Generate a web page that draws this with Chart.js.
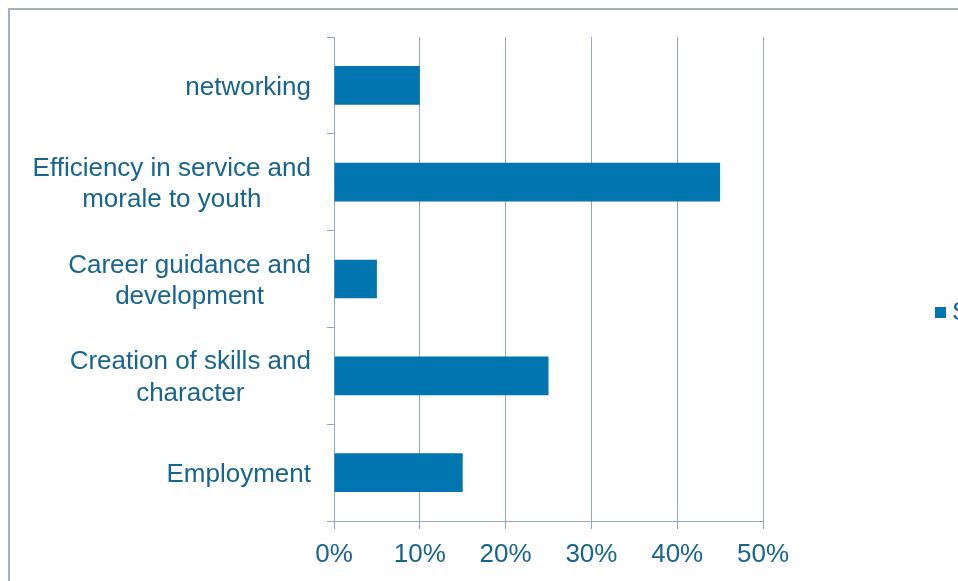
<!DOCTYPE html>
<html>
<head>
<meta charset="utf-8">
<script src="https://cdn.jsdelivr.net/npm/chart.js@4.4.1/dist/chart.umd.min.js"></script>
<style>
    html, body { margin: 0; padding: 0; background: #fff; overflow: hidden; }
    #frame {
        position: absolute; left: 8px; top: 8px; width: 1200px; height: 800px;
        border-left: 2px solid #a3b0c2; border-top: 2px solid #a3b0c2;
    }
    #wrap { position: absolute; left: 0; top: 0; width: 958px; height: 581px; }
</style>
</head>
<body>
<div id="frame"></div>
<div id="wrap"><canvas id="chart"></canvas></div>
<script>
// Categories (top to bottom) and values in percent
const categories = [
    'networking',
    ['Efficiency in service and', 'morale to youth'],
    ['Career guidance and', 'development'],
    ['Creation of skills and', 'character'],
    'Employment'
];
const values = [10, 45, 5, 25, 15];
const seriesName = 'Series1';
const xTicks = [0, 10, 20, 30, 40, 50];

const barColor = '#0075af';
const textColor = '#17648f';
const gridColor = '#95a5ba';
const font = { family: "'Liberation Sans', Arial, sans-serif", size: 26 };

// Wrapped category labels: keep the block right-aligned but center its lines
const centerWrapped = {
    id: 'centerWrapped',
    beforeDraw(chart) {
        const scale = chart.scales.y;
        const ctx = chart.ctx;
        scale.getLabelItems().forEach(item => {
            const [x, y] = item.options.translation;
            let nx = x;
            if (Array.isArray(item.label)) {
                ctx.save();
                ctx.font = item.font.string;
                const w = Math.max(...item.label.map(l => ctx.measureText(l).width));
                ctx.restore();
                item.options.textAlign = 'center';
                nx = x - w / 2;
            }
            item.options.translation = [nx, y + 2];
        });
    }
};

// Simple legend drawn at the right edge (it runs off the frame like the original)
const sideLegend = {
    id: 'sideLegend',
    afterDraw(chart) {
        const ctx = chart.ctx;
        const ds = chart.data.datasets[0];
        ctx.save();
        ctx.fillStyle = ds.backgroundColor;
        ctx.fillRect(935, 307, 11, 11);
        ctx.fillStyle = textColor;
        ctx.font = `${font.size}px ${font.family}`;
        ctx.textBaseline = 'middle';
        ctx.fillText(ds.label, 952, 313);
        ctx.restore();
    }
};

new Chart(document.getElementById('chart'), {
    type: 'bar',
    data: {
        labels: categories,
        datasets: [{
            label: seriesName,
            data: values,
            backgroundColor: barColor,
            borderWidth: 0,
            categoryPercentage: 1,
            barPercentage: 0.4
        }]
    },
    options: {
        indexAxis: 'y',
        responsive: true,
        maintainAspectRatio: false,
        animation: false,
        layout: { padding: { top: 37, right: 195, left: 0, bottom: 0 } },
        plugins: {
            legend: { display: false },
            tooltip: { enabled: false }
        },
        scales: {
            x: {
                min: 0,
                max: 50,
                afterBuildTicks: s => { s.ticks = xTicks.map(v => ({ value: v })); },
                afterFit: s => { s.height = 60; },
                ticks: {
                    color: textColor,
                    font: font,
                    padding: 10,
                    callback: v => v + '%'
                },
                grid: { color: gridColor, lineWidth: 1, tickLength: 8 },
                border: { color: gridColor, width: 1 }
            },
            y: {
                afterFit: s => { s.width = 334; },
                ticks: { color: textColor, font: font, padding: 16 },
                grid: { drawOnChartArea: false, color: gridColor, tickLength: 7 },
                border: { color: gridColor, width: 1 }
            }
        }
    },
    plugins: [centerWrapped, sideLegend]
});
</script>
</body>
</html>
